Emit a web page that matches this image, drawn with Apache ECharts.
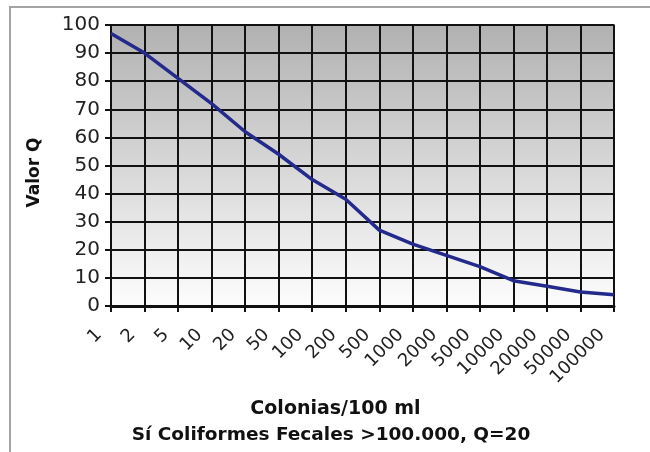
<!DOCTYPE html>
<html>
<head>
<meta charset="utf-8">
<script src="https://cdn.jsdelivr.net/npm/echarts@6/dist/echarts.min.js"></script>
<style>
  html, body { margin: 0; padding: 0; background: #fff; }
  #chart { width: 650px; height: 452px; }
</style>
</head>
<body>
<div id="chart"></div>
<script>
// Colonias/100 ml (eje X)
const colonias = ['1', '2', '5', '10', '20', '50', '100', '200', '500', '1000', '2000', '5000', '10000', '20000', '50000', '100000']
// Valor Q
const valorQ = [97, 90, 81, 72, 62, 54, 45, 38, 27, 22, 18, 14, 9, 7, 5, 4]

const chart = echarts.init(document.getElementById('chart'))

const option = {
  backgroundColor: '#fff',
  animation: false,
  grid: {
    left: 111,
    top: 25,
    right: 36,
    bottom: 146,
    show: true,
    borderColor: '#8c8c8c',
    borderWidth: 2,
    backgroundColor: {
      type: 'linear', x: 0, y: 0, x2: 0, y2: 1,
      colorStops: [
        { offset: 0, color: '#b1b1b1' },
        { offset: 1, color: '#fdfdfd' }
      ]
    }
  },
  xAxis: {
    type: 'category',
    data: colonias,
    boundaryGap: false,
    name: 'Colonias/100 ml',
    nameLocation: 'middle',
    nameGap: 94,
    nameTextStyle: {
      fontFamily: 'DejaVu Sans',
      fontWeight: 'bold',
      fontSize: 19,
      color: '#111',
      padding: [0, 54, 0, 0]
    },
    axisLine: { show: true, lineStyle: { color: '#111', width: 3 } },
    axisTick: { show: true, length: 6, lineStyle: { color: '#111', width: 2 } },
    splitLine: { show: true, lineStyle: { color: '#111', width: 2 } },
    axisLabel: {
      interval: 0,
      rotate: 45,
      margin: 14,
      padding: [0, 17, 0, 0],
      fontFamily: 'DejaVu Sans',
      fontSize: 18,
      color: '#222'
    }
  },
  yAxis: {
    type: 'value',
    min: 0,
    max: 100,
    interval: 10,
    name: 'Valor Q',
    nameLocation: 'middle',
    nameGap: 68,
    nameTextStyle: {
      fontFamily: 'DejaVu Sans',
      fontWeight: 'bold',
      fontSize: 17,
      color: '#111',
      padding: [0, 14, 0, 0]
    },
    axisLine: { show: true, lineStyle: { color: '#111', width: 2 } },
    axisTick: { show: true, length: 6, lineStyle: { color: '#111', width: 2 } },
    splitLine: { show: true, lineStyle: { color: '#111', width: 2 } },
    axisLabel: {
      margin: 11,
      fontFamily: 'DejaVu Sans',
      fontSize: 20,
      color: '#222'
    }
  },
  graphic: [
    {
      type: 'rect',
      shape: { x: 10, y: 7, width: 700, height: 500 },
      style: { fill: 'none', stroke: '#a3a3a3', lineWidth: 2 },
      silent: true
    },
    {
      type: 'text',
      x: 331,
      y: 435,
      style: {
        text: 'Sí Coliformes Fecales >100.000, Q=20',
        align: 'center',
        verticalAlign: 'middle',
        font: 'bold 18.5px "DejaVu Sans"',
        fill: '#111'
      }
    }
  ],
  series: [
    {
      name: 'Valor Q',
      type: 'line',
      data: valorQ,
      symbol: 'none',
      smooth: false,
      lineStyle: { color: '#232a8c', width: 3.5 },
      z: 5
    }
  ]
}

chart.setOption(option)
</script>
</body>
</html>
